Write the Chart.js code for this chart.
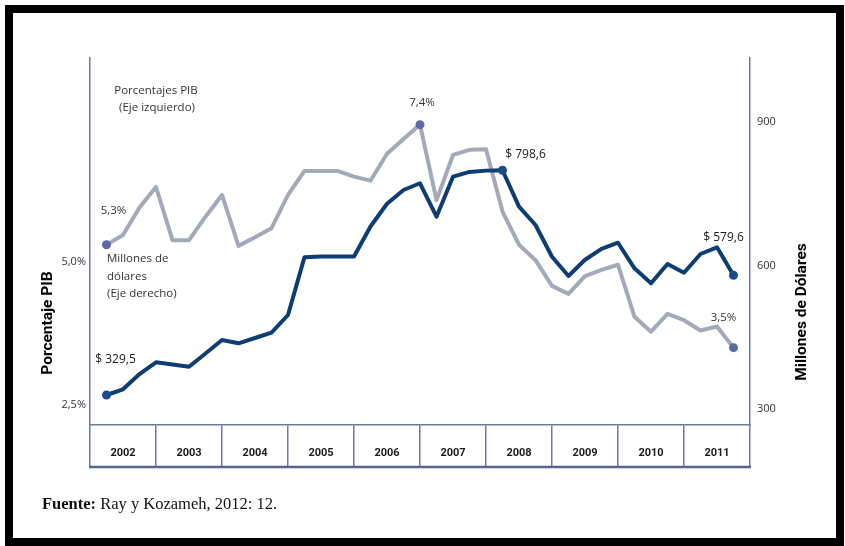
<!DOCTYPE html>
<html>
<head>
<meta charset="utf-8">
<script src="https://cdn.jsdelivr.net/npm/chart.js@4/dist/chart.umd.min.js"></script>
<style>
  html, body { margin: 0; padding: 0; background: #fff; }
  #wrap { position: relative; width: 845px; height: 546px; overflow: hidden; background: #fff; }
  #chart { position: absolute; left: 0; top: 0; }
  #frame { position: absolute; left: 5px; top: 5px; width: 823px; height: 525px; border: 8px solid #000; pointer-events: none; }
  #fuente { position: absolute; left: 42px; top: 494px; font: 16.5px "Liberation Serif", serif; color: #111; }
</style>
</head>
<body>
<div id="wrap">
  <canvas id="chart" width="845" height="546"></canvas>
  <div id="frame"></div>
  <div id="fuente"><b>Fuente:</b> Ray y Kozameh, 2012: 12.</div>
</div>
<script>
// Quarterly series, 2002-T1 .. 2011-T3
const quarters = [
  '2002-T1','2002-T2','2002-T3','2002-T4',
  '2003-T1','2003-T2','2003-T3','2003-T4',
  '2004-T1','2004-T2','2004-T3','2004-T4',
  '2005-T1','2005-T2','2005-T3','2005-T4',
  '2006-T1','2006-T2','2006-T3','2006-T4',
  '2007-T1','2007-T2','2007-T3','2007-T4',
  '2008-T1','2008-T2','2008-T3','2008-T4',
  '2009-T1','2009-T2','2009-T3','2009-T4',
  '2010-T1','2010-T2','2010-T3','2010-T4',
  '2011-T1','2011-T2','2011-T3'
];

// Remesas como porcentaje del PIB (eje izquierdo)
const pibPct = [
  5.30, 5.47, 5.95, 6.31,
  5.38, 5.38, 5.79, 6.17,
  5.28, 5.43, 5.59, 6.17,
  6.59, 6.59, 6.59, 6.49,
  6.42, 6.89, 7.15, 7.40,
  6.08, 6.87, 6.96, 6.97,
  5.88, 5.30, 5.03, 4.58,
  4.44, 4.75, 4.86, 4.95,
  4.04, 3.78, 4.09, 3.98,
  3.80, 3.87, 3.50
];

// Remesas en millones de dólares (eje derecho)
const millones = [
  329.5, 341.4, 373.3, 397.8,
  393.2, 388.6, 416.1, 444.3,
  437.4, 448.5, 459.6, 496.5,
  617.3, 618.5, 618.5, 618.5,
  681.2, 728.8, 757.5, 771.5,
  701.7, 785.3, 795.2, 797.9,
  798.6, 722.6, 684.4, 618.2,
  578.0, 611.8, 634.5, 647.4,
  594.0, 562.7, 603.0, 584.8,
  623.9, 637.9, 579.6
];

const years = ['2002','2003','2004','2005','2006','2007','2008','2009','2010','2011'];
const pctTicks = [2.5, 5.0];
const usdTicks = [300, 600, 900];

// quarter label -> position on the time axis (quarters since start of 2002, at quarter end)
const firstYear = Number(years[0]);
function quarterPos(label) {
  const [y, q] = label.split('-T');
  return (Number(y) - firstYear) * 4 + Number(q);
}

const fmtComma = v => v.toFixed(1).replace('.', ',');
function highlighted(values) {
  const iMax = values.indexOf(Math.max(...values));
  return [0, iMax, values.length - 1];
}
const pctMarks = highlighted(pibPct);
const usdMarks = highlighted(millones);

const AXIS = '#6e7b9c';
const FONT = '"Open Sans", "Noto Sans", sans-serif';
const BOLD = 'Roboto, "Noto Sans", sans-serif';

const annotations = {
  id: 'annotations',
  afterDraw(chart) {
    const { ctx, chartArea, scales } = chart;
    ctx.save();

    // bottom border of the year table
    const yr = scales.xYear;
    ctx.strokeStyle = '#55658c';
    ctx.lineWidth = 2.5;
    ctx.beginPath();
    ctx.moveTo(chartArea.left - 1, yr.bottom);
    ctx.lineTo(chartArea.right + 1, yr.bottom);
    ctx.stroke();

    // value labels next to highlighted points
    const metaPct = chart.getDatasetMeta(1).data;
    const metaUsd = chart.getDatasetMeta(0).data;
    ctx.fillStyle = '#333';
    ctx.font = '11.5px ' + FONT;
    ctx.textAlign = 'center';
    ctx.textBaseline = 'middle';
    const pctOffsets = [[7, -34], [2, -22], [-10, -30]];
    pctMarks.forEach((i, k) => {
      const p = metaPct[i];
      ctx.fillText(fmtComma(pibPct[i]) + '%', p.x + pctOffsets[k][0], p.y + pctOffsets[k][1]);
    });
    ctx.fillStyle = '#1a1a1a';
    ctx.font = '12px ' + FONT;
    const usdOffsets = [[9, -35], [23, -16], [-10, -38]];
    usdMarks.forEach((i, k) => {
      const p = metaUsd[i];
      ctx.fillText('$ ' + fmtComma(millones[i]), p.x + usdOffsets[k][0], p.y + usdOffsets[k][1]);
    });

    // series captions
    ctx.fillStyle = '#333';
    ctx.font = '11.5px ' + FONT;
    ctx.textAlign = 'center';
    ctx.fillText('Porcentajes PIB', 156, 91);
    ctx.fillText('(Eje izquierdo)', 157, 108);
    ctx.textAlign = 'left';
    ctx.fillText('Millones de', 107, 259);
    ctx.fillText('dólares', 107, 277);
    ctx.fillText('(Eje derecho)', 107, 294);

    // axis titles
    ctx.fillStyle = '#000';
    ctx.font = 'bold 15.5px ' + BOLD;
    ctx.textAlign = 'center';
    ctx.translate(48, 323);
    ctx.rotate(-Math.PI / 2);
    ctx.fillText('Porcentaje PIB', 0, 0);
    ctx.setTransform(1, 0, 0, 1, 0, 0);
    ctx.translate(802, 312);
    ctx.rotate(-Math.PI / 2);
    ctx.fillText('Millones de Dólares', 0, 0);
    ctx.restore();
  }
};

new Chart(document.getElementById('chart'), {
  type: 'line',
  data: {
    datasets: [
      {
        label: 'Millones de dólares',
        data: quarters.map((q, i) => ({ x: quarterPos(q), y: millones[i] })),
        xAxisID: 'x',
        yAxisID: 'yUsd',
        borderColor: '#0d3d72',
        borderWidth: 4,
        borderJoinStyle: 'round',
        borderCapStyle: 'round',
        tension: 0,
        pointRadius: ctx => usdMarks.includes(ctx.dataIndex) ? 4.5 : 0,
        pointBackgroundColor: '#1d4a8e',
        pointBorderWidth: 0
      },
      {
        label: 'Porcentajes PIB',
        data: quarters.map((q, i) => ({ x: quarterPos(q), y: pibPct[i] })),
        xAxisID: 'x',
        yAxisID: 'yPct',
        borderColor: '#a3a9b8',
        borderWidth: 4,
        borderJoinStyle: 'round',
        borderCapStyle: 'round',
        tension: 0,
        pointRadius: ctx => pctMarks.includes(ctx.dataIndex) ? 4.5 : 0,
        pointBackgroundColor: '#5c69a8',
        pointBorderWidth: 0
      }
    ]
  },
  options: {
    responsive: false,
    animation: false,
    events: [],
    layout: { padding: { top: 58, bottom: 79, left: 0, right: 0 } },
    plugins: { legend: { display: false }, tooltip: { enabled: false } },
    scales: {
      x: { type: 'linear', display: false, min: 0, max: years.length * 4 },
      xYear: {
        type: 'category',
        labels: years,
        position: 'bottom',
        offset: true,
        grid: { offset: true, drawOnChartArea: false, drawTicks: true, tickLength: 42, color: AXIS, lineWidth: 1.5 },
        border: { display: true, color: AXIS, width: 1.5 },
        ticks: { padding: -20, autoSkip: false, maxRotation: 0, color: '#1a1a1a', font: { family: BOLD, weight: 'bold', size: 11 } },
        afterFit: s => { s.height = 42; }
      },
      yPct: {
        type: 'linear',
        position: 'left',
        min: 2.148,
        max: 8.565,
        grid: { display: false, drawTicks: false },
        border: { display: true, color: AXIS, width: 1.5 },
        afterBuildTicks: s => { s.ticks = pctTicks.map(v => ({ value: v })); },
        ticks: { padding: 4, color: '#333', font: { family: FONT, size: 11 }, callback: v => fmtComma(v) + '%' },
        afterFit: s => { s.width = 90; }
      },
      yUsd: {
        type: 'linear',
        position: 'right',
        min: 266.9,
        max: 1033.0,
        grid: { display: false, drawTicks: false },
        border: { display: true, color: AXIS, width: 1.5 },
        afterBuildTicks: s => { s.ticks = usdTicks.map(v => ({ value: v })); },
        ticks: { padding: 7, color: '#333', font: { family: FONT, size: 11 }, callback: v => String(v) },
        afterFit: s => { s.width = 95; }
      }
    }
  },
  plugins: [annotations]
});
</script>
</body>
</html>
